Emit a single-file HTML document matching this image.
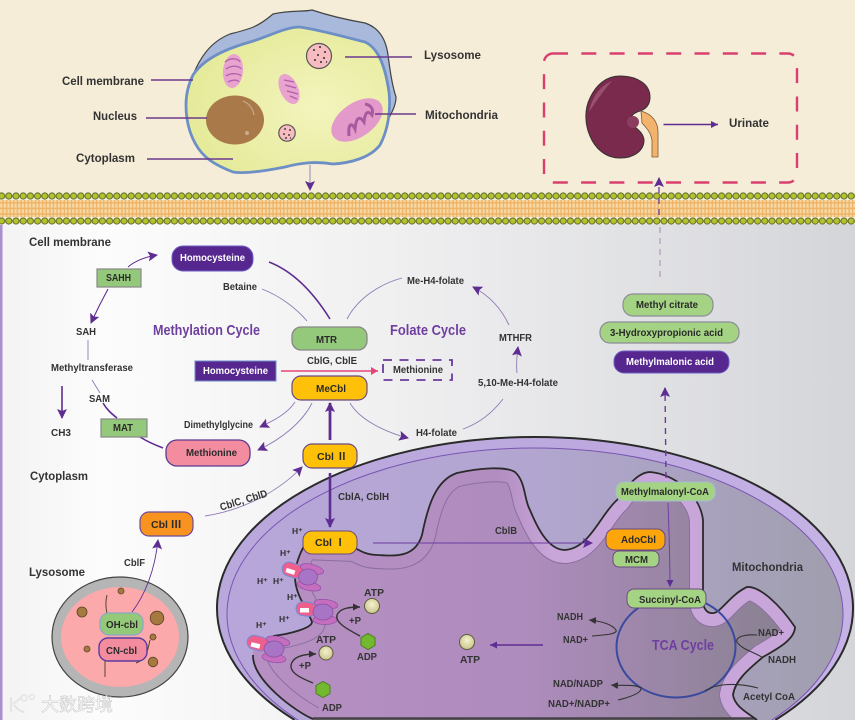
<!DOCTYPE html>
<html><head><meta charset="utf-8">
<style>
html,body{margin:0;padding:0;background:#f5edd8;width:855px;height:720px;overflow:hidden}
svg{display:block;filter:blur(.35px)}
text{font-family:"Liberation Sans","Noto Sans CJK SC",sans-serif;font-weight:bold;font-size:10.5px;fill:#333}
.w{fill:#fff}.d{fill:#2a2a2a}
.c{font-size:15px;fill:#6f3fa0}
.l{font-size:12px;fill:#333}
.p{fill:none;stroke:#5e2d91;stroke-width:1.6}
.th{fill:none;stroke:#8f7ab5;stroke-width:.9}
.m{fill:none;stroke:#333;stroke-width:1.4}
.lobe{fill:#c56ec0;stroke:#8e4fa5;stroke-width:.7}
.core{fill:#a874c5;stroke:#8e4fa5;stroke-width:.8}
.pk{fill:#ef5f8d;stroke:#6f8fd8;stroke-width:1}
.h{font-size:8.5px}
</style></head><body>
<svg width="855" height="720" viewBox="0 0 855 720" xmlns="http://www.w3.org/2000/svg">
<defs>
<linearGradient id="bg" x1="0" x2="1" y1="0" y2="0"><stop offset="0" stop-color="#f3f3f3"/><stop offset=".12" stop-color="#fcfcfc"/><stop offset=".45" stop-color="#f0f0f1"/><stop offset="1" stop-color="#d4d5d9"/></linearGradient>
<linearGradient id="ob" gradientUnits="userSpaceOnUse" x1="217" x2="852" y1="0" y2="0"><stop offset="0" stop-color="#b9a8dc"/><stop offset=".6" stop-color="#bda9de"/><stop offset="1" stop-color="#c6b3e6"/></linearGradient>
<linearGradient id="mo" gradientUnits="userSpaceOnUse" x1="227" x2="842" y1="0" y2="0"><stop offset="0" stop-color="#b8a6da"/><stop offset=".5" stop-color="#b2a6d0"/><stop offset="1" stop-color="#a09eae"/></linearGradient>
<linearGradient id="mi" gradientUnits="userSpaceOnUse" x1="250" x2="800" y1="0" y2="0"><stop offset="0" stop-color="#b78fc3"/><stop offset=".5" stop-color="#ae8cbd"/><stop offset="1" stop-color="#87808f"/></linearGradient>
<linearGradient id="bd" gradientUnits="userSpaceOnUse" x1="250" x2="800" y1="0" y2="0"><stop offset="0" stop-color="#b78fc3"/><stop offset=".45" stop-color="#b18dc0"/><stop offset=".55" stop-color="#c9a6da"/><stop offset="1" stop-color="#c9a6da"/></linearGradient>
<radialGradient id="cy" cx=".65" cy=".55" r=".6"><stop offset="0" stop-color="#f3f4bd"/><stop offset="1" stop-color="#e6eb9c"/></radialGradient>
<radialGradient id="atp" cx=".5" cy=".4" r=".6"><stop offset="0" stop-color="#f5f2cf"/><stop offset="1" stop-color="#c9c48c"/></radialGradient>
<pattern id="b1" width="7.2" height="10" patternUnits="userSpaceOnUse" x="-2" y="191"><circle cx="3.6" cy="5" r="3.1" fill="#b4c22e" stroke="#5c6a28" stroke-width="1"/></pattern>
<pattern id="b2" width="7.2" height="10" patternUnits="userSpaceOnUse" x="-2" y="216"><circle cx="3.6" cy="5" r="3.1" fill="#b4c22e" stroke="#5c6a28" stroke-width="1"/></pattern>
<pattern id="tail" width="7.2" height="5.6" patternUnits="userSpaceOnUse" x="-2" y="200"><rect width="7.2" height="5.6" fill="#f6d9a6"/><path d="M1.5 0v5.6M5 0v5.6M0 2.8h7.2" stroke="#efb264" stroke-width="1.3"/></pattern>
<marker id="a" markerWidth="11" markerHeight="10" refX="9" refY="5" orient="auto" markerUnits="userSpaceOnUse"><path d="M0 0L10 5L0 10L2 5Z" fill="#5e2d91"/></marker>
<marker id="s" markerWidth="8" markerHeight="7" refX="7" refY="3.5" orient="auto" markerUnits="userSpaceOnUse"><path d="M0 0L7 3.5L0 7Z" fill="#5e2d91"/></marker>
<marker id="k" markerWidth="8" markerHeight="7" refX="7" refY="3.5" orient="auto" markerUnits="userSpaceOnUse"><path d="M0 0L7 3.5L0 7Z" fill="#333"/></marker>
<marker id="r" markerWidth="8" markerHeight="8" refX="7" refY="4" orient="auto" markerUnits="userSpaceOnUse"><path d="M0 0L7 4L0 8Z" fill="#e8447a"/></marker>
<path id="mo2" d="M313 720C296 712 252 680 253 655C254 645 262 640 273 636C290 634 312 628 312 622C308 610 295 595 295 577C295 565 300 553 304 546L355 548C362 552 368 555 378 555C395 556 415 558 422 535C428 505 436 480 457 473C480 468 505 466 515 472C526 482 524 500 530 510C537 527 548 550 565 550C590 548 600 515 617 500C630 482 640 472 650 472C675 474 700 495 703 520L703 600C703 610 708 614 714 613C722 611 730 595 747 587C760 586 780 605 795 627C795 640 775 650 763 657C750 668 735 680 733 695C735 707 748 713 757 720"/>
<clipPath id="mc"><path d="M313 720C296 712 252 680 253 655C254 645 262 640 273 636C290 634 312 628 312 622C308 610 295 595 295 577C295 565 300 553 304 546L355 548C362 552 368 555 378 555C395 556 415 558 422 535C428 505 436 480 457 473C480 468 505 466 515 472C526 482 524 500 530 510C537 527 548 550 565 550C590 548 600 515 617 500C630 482 640 472 650 472C675 474 700 495 703 520L703 600C703 610 708 614 714 613C722 611 730 595 747 587C760 586 780 605 795 627C795 640 775 650 763 657C750 668 735 680 733 695C735 707 748 713 757 720Z"/></clipPath>
</defs>

<rect width="855" height="720" fill="#f5edd8"/>
<rect x="0" y="224" width="855" height="496" fill="url(#bg)"/>
<rect x="0" y="225" width="2.5" height="495" fill="#a98fd0"/>

<!-- membrane -->
<rect x="0" y="200" width="855" height="17" fill="url(#tail)"/>
<rect x="0" y="191" width="855" height="10" fill="url(#b1)"/>
<rect x="0" y="216" width="855" height="10" fill="url(#b2)"/>

<!-- cell -->
<path d="M193 75C200 58 210 42 230 34C250 29 258 27 273 14C290 10 305 12 312 10C330 16 348 20 365 23C380 28 386 40 388 55C390 70 392 85 396 97C396 105 392 112 389 118L340 100L193 75Z" fill="#a9b9db" stroke="#444" stroke-width="1.2"/>
<path d="M193 75C203 60 222 50 250 42C270 36 285 27 300 27C320 30 345 37 365 42C378 48 385 65 389 92C391 110 388 130 380 145C370 158 350 163 333 164C315 161 300 163 285 167C265 171 245 174 233 172C215 165 203 158 195 143C188 130 186 118 186 105C186 95 188 85 193 75Z" fill="url(#cy)" stroke="#6d8fc6" stroke-width="2.8"/>
<ellipse cx="235" cy="120" rx="29" ry="24.5" fill="#a9794a"/>
<path d="M243 101C250 104 253 109 254 115" stroke="#c9ab8d" stroke-width="1.2" fill="none"/><circle cx="247" cy="133" r="2" fill="#c9ab8d"/>
<ellipse cx="233" cy="71" rx="10" ry="17" transform="rotate(5 233 71)" fill="#e8a3cf"/>
<path d="M225 62C232 56 240 60 240 62M226 69C233 64 241 67 241 69M226 76C232 72 240 74 241 76M228 82C233 79 238 80 239 82" stroke="#b160a8" stroke-width="1.3" fill="none"/>
<ellipse cx="289" cy="89" rx="9" ry="16" transform="rotate(-25 289 89)" fill="#e8a3cf"/>
<path d="M284 80L294 82M285 85L296 88M287 91L298 94M290 96L297 99" stroke="#b160a8" stroke-width="1.4" fill="none"/>
<ellipse cx="357" cy="120" rx="17" ry="29" transform="rotate(55 357 120)" fill="#e39acb"/>
<path d="M349 136C348 125 351 121 355 129C356 118 359 115 364 122C365 112 368 110 372 115C374 108 370 105 365 104" stroke="#a95a9f" stroke-width="3" fill="none"/>
<circle cx="319" cy="56" r="12.5" fill="#f8bcc0" stroke="#555" stroke-width="1.2"/>
<path d="M313 50h2M319 47h2M324 52h2M317 55h2M323 58h2M314 60h2M320 62h2M326 62h1" stroke="#444" stroke-width="1.7"/>
<circle cx="287" cy="133" r="8.2" fill="#f8bcc0" stroke="#555" stroke-width="1.2"/>
<path d="M284 129h2M289 130h2M283 134h2M288 135h2M285 138h2M290 138h1" stroke="#444" stroke-width="1.5"/>
<g stroke="#6b3a8e" stroke-width="1.5"><path d="M151 80H193M146 118H207M147 159H233M345 57H412M375 114H416"/></g>
<path d="M310 165V190" class="th" marker-end="url(#a)"/>
<text class="l" x="62" y="85" textLength="82" lengthAdjust="spacingAndGlyphs">Cell membrane</text>
<text class="l" x="93" y="120" textLength="44" lengthAdjust="spacingAndGlyphs">Nucleus</text>
<text class="l" x="76" y="162" textLength="59" lengthAdjust="spacingAndGlyphs">Cytoplasm</text>
<text class="l" x="424" y="59" textLength="57" lengthAdjust="spacingAndGlyphs">Lysosome</text>
<text class="l" x="425" y="119" textLength="73" lengthAdjust="spacingAndGlyphs">Mitochondria</text>

<!-- kidney -->
<rect x="544" y="53.5" width="253" height="129" rx="9" fill="none" stroke="#d9406f" stroke-width="2.4" stroke-dasharray="15 13.3"/>
<path d="M620 76C637 76 650 84 650 97C650 105 646 109 640 111C633 113 630 117 630 121C632 127 643 130 644 140C644 150 635 158 620 158C605 158 595 148 590 136C585 125 584 110 590 98C596 85 606 76 620 76Z" fill="#7a2a4c" stroke="#333" stroke-width="1"/>
<path d="M589 112C592 97 600 86 612 81C604 90 597 100 589 112Z" fill="#97506f"/>
<circle cx="633" cy="122" r="6" fill="#8b3d60"/>
<path d="M641 111C652 114 658 122 658 132V157H652V140C650 130 645 127 642 123Z" fill="#f3b36c" stroke="#7b5b3a" stroke-width=".8"/>
<path d="M663.5 124.5H718" class="p" marker-end="url(#s)"/>
<text class="l" x="729" y="127" textLength="40" lengthAdjust="spacingAndGlyphs">Urinate</text>
<path d="M659 215V178" stroke="#6b3a9e" stroke-width="1.3" stroke-dasharray="6 5" fill="none" marker-end="url(#a)"/>

<!-- mitochondrion -->
<path d="M294.7 720A318 171 0 1 1 775.300 720Z" fill="url(#ob)"/>
<path d="M298 720A308 166 0 1 1 772 720Z" fill="url(#mo)"/>
<path d="M298 720A308 166 0 1 1 772 720" fill="none" stroke="#7a55b0" stroke-width="1"/>
<path d="M294.7 720A318 171 0 1 1 775.300 720" fill="none" stroke="#2a2a2a" stroke-width="2"/>
<path clip-path="url(#mc)" d="M240 460H810V720H240Z" fill="url(#mi)"/>
<g clip-path="url(#mc)">
<use href="#mo2" fill="none" stroke="#8a6f9f" stroke-width="28"/>
<use href="#mo2" fill="none" stroke="url(#bd)" stroke-width="26"/>
<path d="M313 718.500H760" stroke="#444" stroke-width="2.500"/>
</g>
<path d="M757 720C748 713 735 707 733 695C735 680 750 668 763 657C775 650 795 640 795 627C780 605 760 586 747 587C730 595 722 611 714 613C708 614 703 610 703 600V520C700 495 675 474 650 472C640 472 630 482 617 500C600 515 590 548 565 550C548 550 537 527 530 510C524 500 526 482 515 472C505 466 480 468 457 473C436 480 428 505 422 535C415 558 395 556 378 555C368 555 362 552 355 548" fill="none" stroke="#2a2a2a" stroke-width="1.8"/>
<path d="M304 546C300 553 295 565 295 577C295 595 308 610 312 622C312 628 290 634 273 636M253 655C252 680 296 712 313 719" fill="none" stroke="#2a2a2a" stroke-width="1.8"/>
<ellipse cx="676" cy="647" rx="59.500" ry="50.500" fill="none" stroke="#3a4a9e" stroke-width="2"/>

<!-- ATP synthases -->
<g>
<rect x="282" y="563" width="21" height="14" rx="7" transform="rotate(18 292 570)" class="pk"/><rect x="286" y="569" width="9" height="4.500" fill="#fff" transform="rotate(18 290 571)"/>
<ellipse cx="312" cy="569" rx="12" ry="4.500" transform="rotate(15 312 569)" class="lobe"/>
<ellipse cx="309" cy="586" rx="12" ry="4.500" transform="rotate(12 309 586)" class="lobe"/>
<ellipse cx="308" cy="577" rx="9.500" ry="8" class="core"/>
</g>
<g>
<rect x="296" y="602" width="20" height="14" rx="7" transform="rotate(8 306 609)" class="pk"/><rect x="300" y="608" width="9" height="4.500" fill="#fff"/>
<ellipse cx="326" cy="604" rx="12" ry="4.500" transform="rotate(8 326 604)" class="lobe"/>
<ellipse cx="325" cy="620" rx="12" ry="4.500" class="lobe"/>
<ellipse cx="323" cy="612" rx="10" ry="8" class="core"/>
</g>
<g>
<rect x="247" y="636" width="21" height="14" rx="7" transform="rotate(14 257 643)" class="pk"/><rect x="251" y="643" width="9" height="4.500" fill="#fff" transform="rotate(14 255 645)"/>
<ellipse cx="278" cy="641" rx="12" ry="4.500" transform="rotate(12 278 641)" class="lobe"/>
<ellipse cx="274" cy="658" rx="12" ry="4.500" transform="rotate(8 274 658)" class="lobe"/>
<ellipse cx="274" cy="649" rx="10" ry="8" class="core"/>
</g>
<text class="h" x="292" y="534">H⁺</text><text class="h" x="280" y="556">H⁺</text><text class="h" x="257" y="584">H⁺</text><text class="h" x="273" y="584">H⁺</text><text class="h" x="287" y="600">H⁺</text><text class="h" x="279" y="622">H⁺</text><text class="h" x="256" y="628">H⁺</text>
<circle cx="372" cy="606" r="7.500" fill="url(#atp)" stroke="#5a5a3a"/>
<circle cx="326" cy="653" r="7" fill="url(#atp)" stroke="#5a5a3a"/>
<circle cx="467" cy="642" r="7.500" fill="url(#atp)" stroke="#5a5a3a"/>
<path d="M368 633.500L375 637.500V645.500L368 649.500L361 645.500V637.500Z" fill="#72b92f" stroke="#4d7d22"/>
<path d="M323 681.500L330 685.500V693.500L323 697.500L316 693.500V685.500Z" fill="#72b92f" stroke="#4d7d22"/>
<path d="M360 636C345 628 335 622 337 615C340 608 350 607 360 607" class="m" marker-end="url(#k)"/>
<path d="M313 683C298 677 290 672 291 665C293 656 305 654 316 654" class="m" marker-end="url(#k)"/>
<text x="364" y="596" textLength="20" lengthAdjust="spacingAndGlyphs">ATP</text><text x="357" y="660" textLength="20" lengthAdjust="spacingAndGlyphs">ADP</text>
<text x="316" y="643" textLength="20" lengthAdjust="spacingAndGlyphs">ATP</text><text x="322" y="711" textLength="20" lengthAdjust="spacingAndGlyphs">ADP</text>
<text x="460" y="663" textLength="20" lengthAdjust="spacingAndGlyphs">ATP</text>
<text x="349" y="624" textLength="12" lengthAdjust="spacingAndGlyphs">+P</text><text x="299" y="669" textLength="12" lengthAdjust="spacingAndGlyphs">+P</text>
<path d="M543 645H490" class="p" marker-end="url(#s)"/>

<!-- mito text -->
<text class="l" x="732" y="571" textLength="71" lengthAdjust="spacingAndGlyphs">Mitochondria</text>
<text x="652" y="650" class="c" textLength="62" lengthAdjust="spacingAndGlyphs">TCA Cycle</text>
<text x="557" y="620" textLength="26" lengthAdjust="spacingAndGlyphs">NADH</text>
<text x="563" y="643" textLength="25" lengthAdjust="spacingAndGlyphs">NAD+</text>
<text x="758" y="636" textLength="26" lengthAdjust="spacingAndGlyphs">NAD+</text>
<text x="768" y="663" textLength="28" lengthAdjust="spacingAndGlyphs">NADH</text>
<text x="553" y="687" textLength="50" lengthAdjust="spacingAndGlyphs">NAD/NADP</text>
<text x="548" y="707" textLength="62" lengthAdjust="spacingAndGlyphs">NAD+/NADP+</text>
<text x="743" y="700" textLength="52" lengthAdjust="spacingAndGlyphs">Acetyl CoA</text>
<path d="M592 636C605 635 618 634 616 630C612 624 600 621 589 620" class="m" marker-end="url(#k)" style="stroke-width:1.1"/>
<path d="M757 635C745 634 735 637 737 642C742 650 755 652 763 658" class="m" style="stroke-width:1.1"/>
<path d="M618 700C630 697 642 693 641 688C635 684 625 686 611 685" class="m" marker-end="url(#k)" style="stroke-width:1.1"/>
<path d="M705 691C715 684 735 682 758 688" class="m" style="stroke-width:1.1"/>

<path d="M373 543H592" stroke="#6b3a9e" stroke-width="1" fill="none" marker-end="url(#a)"/>
<text x="495" y="534" textLength="22" lengthAdjust="spacingAndGlyphs">CblB</text>
<path d="M668 503C669 530 670 560 670 587" class="th" style="stroke:#6b3a9e" marker-end="url(#s)"/>

<!-- pills inside mito -->
<rect x="616" y="482" width="99" height="19" rx="8" fill="#a4d483" stroke="#a9bbd0"/><text class="d" x="621" y="495" textLength="88" lengthAdjust="spacingAndGlyphs">Methylmalonyl-CoA</text>
<rect x="606" y="529" width="59" height="21" rx="8" fill="#fca60a" stroke="#6a4a7f"/><text class="d" x="621" y="543" textLength="35" lengthAdjust="spacingAndGlyphs">AdoCbl</text>
<rect x="613" y="551" width="46" height="16" rx="6" fill="#a4d483" stroke="#6a4a7f"/><text class="d" x="625" y="563" textLength="23" lengthAdjust="spacingAndGlyphs">MCM</text>
<rect x="627" y="589" width="79" height="19" rx="7" fill="#a4d483" stroke="#6a4a7f"/><text class="d" x="639" y="603" textLength="62" lengthAdjust="spacingAndGlyphs">Succinyl-CoA</text>
<rect x="303" y="531" width="54" height="23" rx="9" fill="#ffc107" stroke="#6a4a7f"/><text class="d" x="315" y="546">Cbl Ⅰ</text>
<path d="M330 473V527" stroke="#5e2d91" stroke-width="2.6" fill="none" marker-end="url(#a)"/>
<text x="338" y="500" textLength="51" lengthAdjust="spacingAndGlyphs">CblA, CblH</text>

<!-- cycle arrows -->
<path d="M128 267C135 261 145 257 157 255" class="th" style="stroke:#5e2d91" marker-end="url(#a)"/>
<path d="M108 289C102 300 96 312 91 323" class="th" style="stroke:#5e2d91;stroke-width:1.1" marker-end="url(#a)"/>
<path d="M88 340V360M92 380L100 393" class="th"/>
<path d="M103 403C107 410 112 414 117 418M140 437C148 442 155 445 163 448" class="p"/>
<path d="M62 386V418" class="p" marker-end="url(#a)"/>
<path d="M269 262C295 272 315 295 330 319" class="p"/>
<path d="M262 289C280 296 296 308 307 321" class="th"/>
<path d="M347 319C358 298 380 284 402 278" class="th"/>
<path d="M509 325C502 310 490 296 473 287" class="th" marker-end="url(#a)"/>
<path d="M517 373C516 365 517 355 518 347" class="th" marker-end="url(#a)"/>
<path d="M463 429C480 423 493 412 503 399" class="th"/>
<path d="M350 403C360 420 385 432 408 438" class="th" marker-end="url(#a)"/>
<path d="M295 402C288 413 275 420 260 427" class="th" marker-end="url(#a)"/>
<path d="M312 403C302 423 280 440 258 450" class="th" marker-end="url(#a)"/>
<path d="M281 371H378" stroke="#e8447a" stroke-width="1.6" fill="none" marker-end="url(#r)"/>
<path d="M330 440V403" stroke="#5e2d91" stroke-width="2.8" fill="none" marker-end="url(#a)"/>
<path d="M205 516C245 510 280 490 302 467" class="th" marker-end="url(#a)"/>
<path d="M660 227V277" stroke="#a89dc0" stroke-width="1.2" stroke-dasharray="6 5" fill="none"/>
<path d="M666 478L665 388" stroke="#6b3a9e" stroke-width="1.4" stroke-dasharray="6 5" fill="none" marker-end="url(#a)"/>

<!-- nodes -->
<rect x="172" y="246" width="81" height="25" rx="11" fill="#55278f" stroke="#6f5cc0"/><text class="w" x="180" y="261" textLength="65" lengthAdjust="spacingAndGlyphs">Homocysteine</text>
<rect x="97" y="269" width="44" height="18" fill="#94c87a" stroke="#888" stroke-width="1.2"/><text class="d" x="106" y="281" textLength="25" lengthAdjust="spacingAndGlyphs">SAHH</text>
<rect x="101" y="419" width="46" height="18" fill="#94c87a" stroke="#888" stroke-width="1.2"/><text class="d" x="113" y="431" textLength="20" lengthAdjust="spacingAndGlyphs">MAT</text>
<rect x="195" y="361" width="81" height="20" fill="#55278f" stroke="#6f8ac8"/><text class="w" x="203" y="374" textLength="65" lengthAdjust="spacingAndGlyphs">Homocysteine</text>
<rect x="166" y="440" width="84" height="26" rx="11" fill="#f48ca0" stroke="#5a3b8f" stroke-width="1.3"/><text class="d" x="186" y="456" textLength="51" lengthAdjust="spacingAndGlyphs">Methionine</text>
<rect x="292" y="327" width="75" height="23" rx="9" fill="#94c87a" stroke="#888" stroke-width="1.3"/><text class="d" x="316" y="343" textLength="21" lengthAdjust="spacingAndGlyphs">MTR</text>
<rect x="292" y="376" width="75" height="24" rx="9" fill="#ffc107" stroke="#6a4a7f" stroke-width="1.2"/><text class="d" x="316" y="392" textLength="30" lengthAdjust="spacingAndGlyphs">MeCbl</text>
<rect x="303" y="444" width="54" height="24" rx="9" fill="#ffc107" stroke="#6a4a7f" stroke-width="1.2"/><text class="d" x="317" y="460">Cbl Ⅱ</text>
<rect x="140" y="512" width="53" height="24" rx="9" fill="#f7931e" stroke="#6a4a9f" stroke-width="1.2"/><text class="d" x="151" y="528">Cbl Ⅲ</text>
<rect x="383" y="360" width="69" height="20" fill="none" stroke="#6b3a9e" stroke-width="1.8" stroke-dasharray="9 7.5"/>
<text x="393" y="373" textLength="50" lengthAdjust="spacingAndGlyphs">Methionine</text>
<rect x="623" y="294" width="90" height="22" rx="10" fill="#a4d483" stroke="#8c8c98" stroke-width="1.2"/><text class="d" x="636" y="308" textLength="62" lengthAdjust="spacingAndGlyphs">Methyl citrate</text>
<rect x="600" y="322" width="139" height="21" rx="10" fill="#a4d483" stroke="#8c8c98" stroke-width="1.2"/><text class="d" x="610" y="336" textLength="113" lengthAdjust="spacingAndGlyphs">3-Hydroxypropionic acid</text>
<rect x="614" y="351" width="115" height="22" rx="10" fill="#55278f" stroke="#6f5cc0"/><text class="w" x="626" y="365" textLength="88" lengthAdjust="spacingAndGlyphs">Methylmalonic acid</text>

<!-- labels -->
<text class="l" x="29" y="246" textLength="82" lengthAdjust="spacingAndGlyphs">Cell membrane</text>
<text class="l" x="30" y="480" textLength="58" lengthAdjust="spacingAndGlyphs">Cytoplasm</text>
<text class="l" x="29" y="576" textLength="56" lengthAdjust="spacingAndGlyphs">Lysosome</text>
<text x="153" y="335" class="c" textLength="107" lengthAdjust="spacingAndGlyphs">Methylation Cycle</text>
<text x="390" y="335" class="c" textLength="76" lengthAdjust="spacingAndGlyphs">Folate Cycle</text>
<text x="223" y="290" textLength="34" lengthAdjust="spacingAndGlyphs">Betaine</text>
<text x="76" y="335" textLength="20" lengthAdjust="spacingAndGlyphs">SAH</text>
<text x="51" y="371" textLength="82" lengthAdjust="spacingAndGlyphs">Methyltransferase</text>
<text x="89" y="402" textLength="21" lengthAdjust="spacingAndGlyphs">SAM</text>
<text x="51" y="436" textLength="20" lengthAdjust="spacingAndGlyphs">CH3</text>
<text x="184" y="428" textLength="69" lengthAdjust="spacingAndGlyphs">Dimethylglycine</text>
<text x="307" y="364" textLength="50" lengthAdjust="spacingAndGlyphs">CblG, CblE</text>
<text x="407" y="284" textLength="57" lengthAdjust="spacingAndGlyphs">Me-H4-folate</text>
<text x="499" y="341" textLength="33" lengthAdjust="spacingAndGlyphs">MTHFR</text>
<text x="478" y="386" textLength="80" lengthAdjust="spacingAndGlyphs">5,10-Me-H4-folate</text>
<text x="416" y="436" textLength="41" lengthAdjust="spacingAndGlyphs">H4-folate</text>
<text x="124" y="566" textLength="21" lengthAdjust="spacingAndGlyphs">CblF</text>
<text x="218" y="504" transform="rotate(-17 242 497)" textLength="49" lengthAdjust="spacingAndGlyphs">CblC, CblD</text>

<!-- lysosome -->
<ellipse cx="120" cy="637" rx="68" ry="60" fill="#b5b5b5" stroke="#444" stroke-width="1.2"/>
<ellipse cx="120" cy="637" rx="59" ry="50" fill="#fba9ab"/>
<g fill="#a5793f" stroke="#5c4426" stroke-width=".8"><circle cx="82" cy="612" r="5"/><circle cx="121" cy="591" r="3"/><circle cx="157" cy="618" r="6.800"/><circle cx="153" cy="637" r="3"/><circle cx="153" cy="662" r="4.800"/><circle cx="87" cy="649" r="3"/></g>
<path d="M107 595C105 603 106 610 108 618M105 655C105 665 105 672 105 677M150 640C148 650 146 660 136 663" fill="none" stroke="#5c4426" stroke-width="1"/>
<path d="M132 612C145 595 155 570 158 540" class="th" style="stroke:#5e2d91" marker-end="url(#a)"/>
<rect x="100" y="613" width="43" height="22" rx="9" fill="#95c97a" stroke="#8aa6c8" stroke-width="1.2"/><text class="d" x="106" y="628" textLength="32" lengthAdjust="spacingAndGlyphs">OH-cbl</text>
<rect x="99" y="638" width="48" height="23" rx="9" fill="#f48ca0" stroke="#5a3b9f" stroke-width="1.4"/><text class="d" x="106" y="654" textLength="31" lengthAdjust="spacingAndGlyphs">CN-cbl</text>

<!-- watermark -->
<path d="M11 697V712M13 704L22 697M14 705C18 710 22 712 24 712" fill="none" stroke="#e4e4e4" stroke-width="2"/>
<circle cx="24" cy="698" r="3" fill="none" stroke="#e4e4e4" stroke-width="1.5"/><circle cx="32" cy="697" r="2.5" fill="none" stroke="#e4e4e4" stroke-width="1.5"/>
<text x="41" y="711" style="font-size:18px;font-weight:normal;fill:#fff;stroke:#c4c4c4;stroke-width:.5" textLength="72" lengthAdjust="spacingAndGlyphs">大数跨境</text>
</svg>
</body></html>
